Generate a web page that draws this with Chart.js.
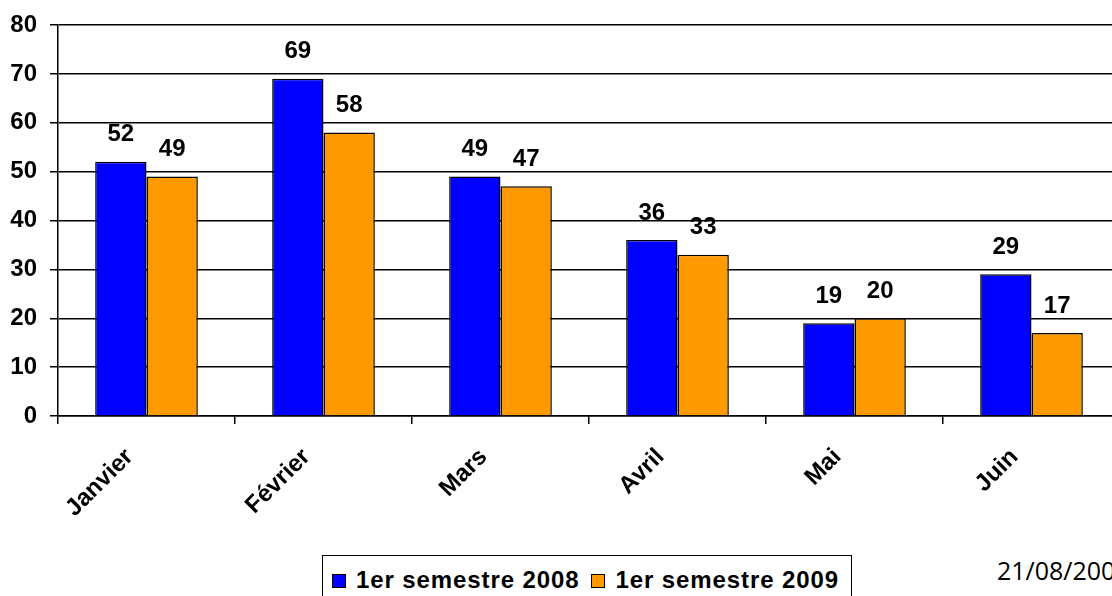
<!DOCTYPE html>
<html lang="fr">
<head>
<meta charset="UTF-8">
<title>1er semestre 2008 / 2009</title>
<script src="https://cdn.jsdelivr.net/npm/chart.js"></script>
<style>
    html, body { margin: 0; padding: 0; background: #fff; overflow: hidden; width: 1112px; height: 596px; }
    #wrap { position: absolute; left: 0; top: 0; width: 1125px; height: 545px; }
    #legend {
        position: absolute; left: 322px; top: 555px; width: 530px; height: 60px;
        border: 1.5px solid #000; box-sizing: border-box;
        font: bold 24px "Liberation Sans", Arial, sans-serif; color: #000; letter-spacing: 0.9px;
        line-height: 24px; padding: 12px 0 0 9px; white-space: nowrap;
    }
    #legend span.item { display: inline-block; margin-right: 12px; }
    #legend span.box {
        display: inline-block; width: 12px; height: 12px; border: 1.5px solid #000;
        vertical-align: 0px; margin-right: 10px;
    }
    #date {
        position: absolute; left: 997px; top: 553px;
        font: 25px "Open Sans", "Liberation Sans", sans-serif; color: #000; white-space: nowrap;
    }
</style>
</head>
<body>
<div id="wrap"><canvas id="barChart"></canvas></div>
<div id="legend"></div>
<div id="date">21/08/2009</div>

<script>
    // data
    var months = ["Janvier", "Février", "Mars", "Avril", "Mai", "Juin"];
    var sem2008 = [52, 69, 49, 36, 19, 29];
    var sem2009 = [49, 58, 47, 33, 20, 17];
    var seriesNames = ["1er semestre 2008", "1er semestre 2009"];
    var seriesColors = ["#0000FF", "#FF9900"];
    var yTicks = [0, 10, 20, 30, 40, 50, 60, 70, 80];

    var font = "'Liberation Sans', Arial, sans-serif";

    // value labels above the bars
    var valueLabels = {
        id: "valueLabels",
        afterDatasetsDraw: function(chart) {
            var ctx = chart.ctx;
            ctx.save();
            ctx.font = "bold 24px " + font;
            ctx.fillStyle = "#000";
            ctx.textAlign = "center";
            ctx.textBaseline = "middle";
            chart.data.datasets.forEach(function(ds, i) {
                chart.getDatasetMeta(i).data.forEach(function(bar, j) {
                    ctx.fillText(ds.data[j], bar.x, bar.y - 27);
                });
            });
            ctx.restore();
        }
    };

    var chartData = {
        labels: months,
        datasets: [
            {
                label: seriesNames[0],
                data: sem2008,
                backgroundColor: seriesColors[0],
                borderColor: "#000",
                borderWidth: 1.5
            },
            {
                label: seriesNames[1],
                data: sem2009,
                backgroundColor: seriesColors[1],
                borderColor: "#000",
                borderWidth: 1.5
            }
        ]
    };

    var options = {
        responsive: true,
        maintainAspectRatio: false,
        animation: false,
        layout: { padding: { top: 25, right: 5, left: 0, bottom: 0 } },
        datasets: { bar: { categoryPercentage: 0.58, barPercentage: 1.0 } },
        scales: {
            x: {
                grid: { drawOnChartArea: false, color: "#000", lineWidth: 1.5, tickLength: 8, offset: true },
                border: { color: "#000", width: 1.5 },
                ticks: {
                    color: "#000",
                    font: { family: font, size: 24, weight: "bold" },
                    minRotation: 45,
                    maxRotation: 45,
                    labelOffset: -17,
                    padding: 19
                },
                afterFit: function(scale) { scale.height = 129; }
            },
            y: {
                min: 0,
                max: 80,
                afterBuildTicks: function(scale) {
                    scale.ticks = yTicks.map(function(v) { return { value: v }; });
                },
                grid: { color: "#000", lineWidth: 1.5, tickLength: 8 },
                border: { color: "#000", width: 1.5 },
                ticks: {
                    color: "#000",
                    font: { family: font, size: 24, weight: "bold" },
                    padding: 13
                },
                afterFit: function(scale) {
                    scale.width = 58;
                    scale.paddingTop = 0;
                    scale.paddingBottom = 0;
                }
            }
        },
        plugins: {
            legend: { display: false },
            tooltip: { enabled: false }
        }
    };

    var ctx = document.getElementById("barChart");
    var myBarChart = new Chart(ctx, {
        type: "bar",
        data: chartData,
        options: options,
        plugins: [valueLabels]
    });

    // legend in a frame under the chart
    var legend = document.getElementById("legend");
    seriesNames.forEach(function(name, i) {
        var item = document.createElement("span");
        item.className = "item";
        var box = document.createElement("span");
        box.className = "box";
        box.style.background = seriesColors[i];
        item.appendChild(box);
        item.appendChild(document.createTextNode(name));
        legend.appendChild(item);
    });
</script>
</body>
</html>
